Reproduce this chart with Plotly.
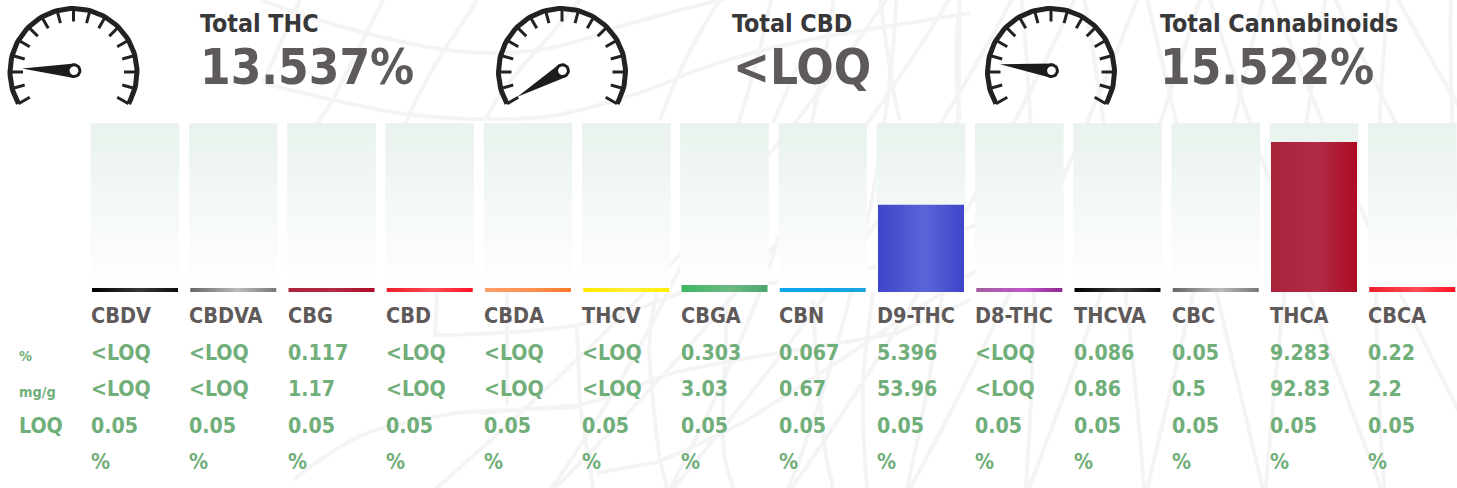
import math
import plotly.graph_objects as go

# ---------- data ----------
names = ["CBDV","CBDVA","CBG","CBD","CBDA","THCV","CBGA","CBN","D9-THC","D8-THC","THCVA","CBC","THCA","CBCA"]
pct_text = ["<LOQ","<LOQ","0.117","<LOQ","<LOQ","<LOQ","0.303","0.067","5.396","<LOQ","0.086","0.05","9.283","0.22"]
mg_text = ["<LOQ","<LOQ","1.17","<LOQ","<LOQ","<LOQ","3.03","0.67","53.96","<LOQ","0.86","0.5","92.83","2.2"]
loq_text = ["0.05"] * 14
unit_text = ["%"] * 14
# drawn bar levels (in %); empty analytes still show a sliver
bar_levels = [0.25,0.25,0.25,0.25,0.25,0.25,0.43,0.25,5.396,0.25,0.25,0.25,9.283,0.31]
track_level = 10.45

BLACK = ["#000000","#3a3738","#0e0e0e"]
GREY = ["#666666","#bcbcbc","#777777"]
WINE = ["#a8243b","#b02b44","#ae0a24"]
RED = ["#f01c2c","#ff4a55","#ff1226"]
bar_colors = [BLACK,GREY,WINE,RED,["#ff9e68","#ff9050","#ff7a2a"],["#ffe900","#ffee38","#fff000"],
              ["#3cb863","#6cb983","#4fa56e"],["#0ca6ec","#10a6e8","#1ba4de"],["#3f45c8","#5b64d8","#3f45c8"],
              ["#a0609e","#c056c8","#8f2a90"],BLACK,GREY,WINE,RED]

gauge_titles = ["Total THC","Total CBD","Total Cannabinoids"]
gauge_text = ["13.537%","<LOQ","15.522%"]
gauge_values = [13.537,0.0,15.522]

# ---------- layout constants ----------
W, H = 1457, 488
BASE_PX, PX_PER_UNIT = 292.0, 16.16
X0_PX, PITCH = 135.0, 98.25
GREEN, DARK, TITLE = "#70ae7a", "#5f5a5a", "#38383a"
FONT = "DejaVu Sans Condensed"

fig = go.Figure()

# bars + tracks on category-index / percent axes
for i, (lv, cs) in enumerate(zip(bar_levels, bar_colors)):
    hw = 44.3 / PITCH
    fig.add_trace(go.Scatter(x=[i-hw,i+hw,i+hw,i-hw,i-hw], y=[0,0,track_level,track_level,0],
        mode="lines", line=dict(width=0), fill="toself", hoverinfo="skip", showlegend=False,
        fillgradient=dict(type="vertical", colorscale=[[0,"#ffffff"],[0.05,"#fefefe"],[0.5,"#f4f9f6"],[1,"#e9f2ec"]])))
    hw = 43.0 / PITCH
    fig.add_trace(go.Scatter(x=[i-hw,i+hw,i+hw,i-hw,i-hw], y=[0,0,lv,lv,0],
        mode="lines", line=dict(width=0), fill="toself", name=names[i], showlegend=False,
        fillgradient=dict(type="horizontal", colorscale=[[0,cs[0]],[0.55,cs[1]],[1,cs[2]]])))

# gauges on the pixel axes
G_CX, G_CY, G_R = [73.5, 562.0, 1051.0], 72.0, 63.5
INK = "#222222"
def pol(cx, cy, r, deg):
    a = math.radians(deg)
    return cx + r*math.cos(a), cy - r*math.sin(a)

for cx, val in zip(G_CX, gauge_values):
    arc = [pol(cx, G_CY, G_R, 210 - d) for d in range(0, 241, 3)]
    fig.add_trace(go.Scatter(x=[p[0] for p in arc], y=[p[1] for p in arc], xaxis="x2", yaxis="y2",
        mode="lines", line=dict(color=INK, width=5), hoverinfo="skip", showlegend=False))
    tx, ty = [], []
    for k in range(17):
        d = 210 - 15*k
        p, q = pol(cx, G_CY, G_R, d), pol(cx, G_CY, 50.5, d)
        tx += [p[0], q[0], None]; ty += [p[1], q[1], None]
    fig.add_trace(go.Scatter(x=tx, y=ty, xaxis="x2", yaxis="y2", mode="lines",
        line=dict(color=INK, width=3), hoverinfo="skip", showlegend=False))
    ang = 210 - 2.4*val
    hx, hy = cx + 0.5, G_CY - 1.3
    tip = pol(hx, hy, 52, ang)
    a1, a2 = pol(hx, hy, 7.2, ang+90), pol(hx, hy, 7.2, ang-90)
    fig.add_trace(go.Scatter(x=[tip[0],a1[0],a2[0],tip[0]], y=[tip[1],a1[1],a2[1],tip[1]], xaxis="x2", yaxis="y2",
        mode="lines", line=dict(width=0, color="#111111"), fill="toself", fillcolor="#1c1c1c", hoverinfo="skip", showlegend=False))
    for r, c in [(7.4,"#1c1c1c"),(4.4,"#ffffff")]:
        cc = [pol(hx, hy, r, d) for d in range(0, 361, 15)]
        fig.add_trace(go.Scatter(x=[p[0] for p in cc], y=[p[1] for p in cc], xaxis="x2", yaxis="y2",
            mode="lines", line=dict(width=0, color=c), fill="toself", fillcolor=c, hoverinfo="skip", showlegend=False))

# text
def label(x, y, s, size, color):
    fig.add_annotation(x=x, y=y, xref="x2", yref="y2", text=s.replace("<","&lt;"), showarrow=False,
        xanchor="left", yanchor="middle", align="left", font=dict(family=FONT, size=size, color=color, weight="bold"))

for x, t in zip([198, 730, 1158], gauge_titles):
    label(x, 23, t, 24.8, TITLE)
for x, t in zip([198, 730.5, 1158], gauge_text):
    label(x, 67, t, 49, DARK)
for i in range(14):
    x = X0_PX - 46 + PITCH*i
    label(x, 315.5, names[i], 21.5, DARK)
    label(x, 352, pct_text[i], 21.2, GREEN)
    label(x, 388, mg_text[i], 21.2, GREEN)
    label(x, 425, loq_text[i], 21.2, GREEN)
    label(x, 461, unit_text[i], 21.2, GREEN)
label(16.5, 356, "%", 14.4, GREEN)
label(16.5, 392, "mg/g", 14.4, GREEN)
label(16.5, 425, "LOQ", 21.2, GREEN)

# faint background mesh (decoration, pixel axes)
bg_paths = [
 "M260,0 C320,22 390,42 447,50 S560,52 617,27 L680,10 S760,-10 800,-20",
 "M263,83 C310,95 370,110 413,115 S530,122 567,113 S640,95 680,77 S800,40 847,33 L970,13",
 "M433,335 C470,335 540,332 577,325 S650,305 680,293 S800,290 880,265 L1000,215",
 "M293,480 C320,458 350,440 367,433 S450,413 467,412 L580,407",
 "M480,413 L580,405 C620,395 640,385 660,377 S760,356 780,353 S880,336 897,333 L970,300",
 "M597,473 L657,462 C700,445 740,424 747,420 S850,355 880,333 L1000,255",
 "M477,0 C460,28 450,40 440,57 S418,95 410,113 S392,170 387,187",
 "M383,0 L333,100 L300,150",
 "M300,0 L263,83",
 "M437,293 L435,337","M507,293 L507,405","M577,325 L580,405 L593,488",
 "M657,293 C650,320 648,345 650,367 S655,430 660,460 L667,488",
 "M727,300 C726,360 722,400 723,433 S728,470 733,488",
 "M813,300 C815,360 820,400 823,433 S830,470 833,488",
 "M873,293 C868,330 864,360 863,383 S864,450 867,488",
 "M880,0 L893,90 L900,120",
 "M797,67 L773,123","M720,0 C700,30 680,65 660,120",
 "M580,0 C540,50 500,85 487,118",
 "M960,0 C955,40 955,80 960,120",
]
shapes = [dict(type="path", path=p, xref="x2", yref="y2", line=dict(color="#f4f4f4", width=4), layer="below") for p in bg_paths]
# sweeping mesh on the right: two mirrored families of arcs about x=1205
for k in range(-6, 7):
    for sgn in (1, -1):
        x_top = 1205 + sgn*k*62 - sgn*60
        x_mid = 1205 + sgn*k*80
        x_bot = 1205 + sgn*k*120 + sgn*60
        shapes.append(dict(type="path", path=f"M{x_top},-10 Q{x_mid},240 {x_bot},498", xref="x2", yref="y2",
                           line=dict(color="#f4f4f4", width=4), layer="below"))
fig.update_layout(shapes=shapes)

fig.update_layout(
    width=W, height=H, margin=dict(l=0, r=0, t=0, b=0), autosize=False,
    paper_bgcolor="#ffffff", plot_bgcolor="rgba(0,0,0,0)", hovermode=False,
    xaxis=dict(range=[-X0_PX/PITCH, (W-X0_PX)/PITCH], visible=False, fixedrange=True),
    yaxis=dict(range=[(BASE_PX-H)/PX_PER_UNIT, BASE_PX/PX_PER_UNIT], visible=False, fixedrange=True),
    xaxis2=dict(range=[0, W], visible=False, overlaying="x", fixedrange=True),
    yaxis2=dict(range=[H, 0], visible=False, overlaying="y", fixedrange=True),
)
fig.write_html("out.html", config={"displayModeBar": False},
    post_script="document.body.style.margin='0';document.body.style.overflow='hidden';")
